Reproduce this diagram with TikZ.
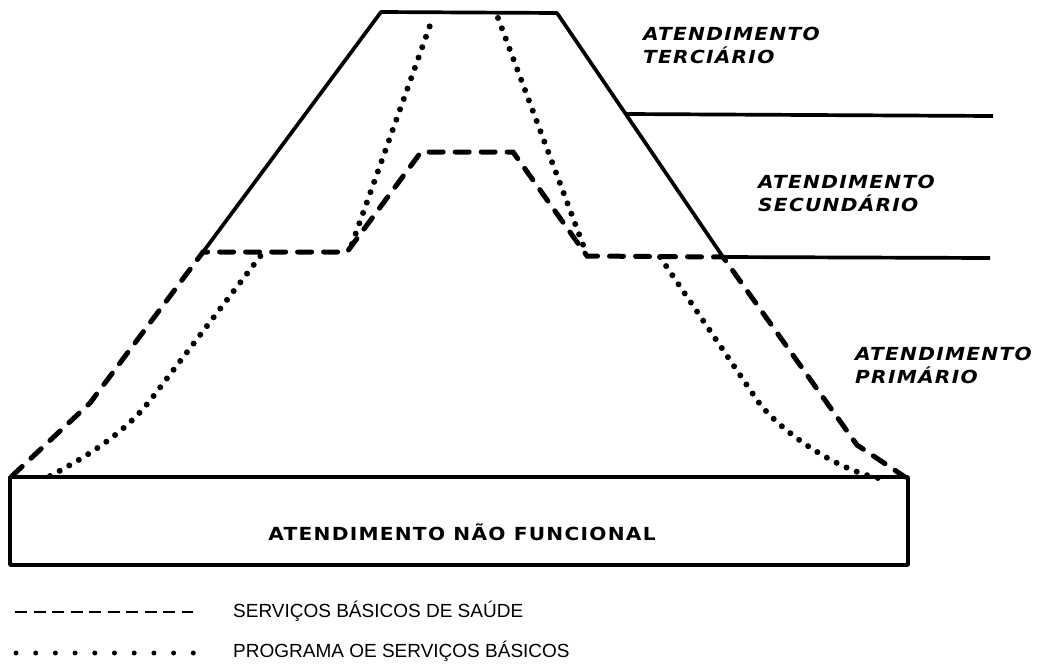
\documentclass[tikz,border=0pt]{standalone}
\usepackage{fontspec}
\setmainfont{Liberation Sans}
\newfontfamily\lblfont[FakeStretch=1.12, LetterSpace=7]{DejaVu Sans}
\usepackage{tikz}
\usetikzlibrary{positioning, calc}

\begin{document}
\begin{tikzpicture}[x=1pt,y=-1pt,
		solidline/.style={line width=3.7pt, line join=round},
		dashline/.style={line width=5pt, line cap=round, dash pattern=on 14pt off 12pt},
		dotline/.style={line width=6pt, line cap=round, dash pattern=on 0pt off 11pt},
		lbl/.style={font=\lblfont\bfseries\itshape\fontsize{18}{23}\selectfont, align=left, anchor=north west, inner sep=0pt}]
			\useasboundingbox (0,0) rectangle (1040,667);
			% niveis
			\coordinate (bl) at (203,252);
			\coordinate (tl) at (381,12);
			\coordinate (tr) at (557,13);
			\coordinate (br) at (723,257);
			\coordinate (t3) at (627,114);
			\draw[solidline] (bl) -- (tl) -- (tr) -- (br);
			\draw[solidline] (t3) -- (993,116);
			\draw[solidline] (br) -- (990,258);
			% base
			\draw[solidline] (10,477) rectangle (908,565);
			\node (naofunc) at (462,540) [anchor=base, inner sep=0pt, font=\lblfont\bfseries\fontsize{18}{22}\selectfont] {ATENDIMENTO NÃO FUNCIONAL};
			% servicos basicos
			\draw[dashline] (12,476) -- (90,403) -- (bl) -- (347,252) -- (421,152) -- (513,152) -- (587,256) -- (br) -- (857,445) -- (905,477);
			% programa
			\draw[dotline] (50,476) .. controls (90,455) and (127,431) .. (152,398) -- (262,254);
			\draw[dotline] (352,244) -- (433,17);
			\draw[dotline] (498,18) -- (585,250);
			\draw[dotline] (660,257) -- (757,400) .. controls (774,425) and (830,468) .. (878,478);
			% rotulos
			\node[lbl] (terc) at (643,27) {ATENDIMENTO\\TERCIÁRIO};
			\node[lbl] (secu) at (758,175) {ATENDIMENTO\\SECUNDÁRIO};
			\node[lbl] (prim) at (855,347) {ATENDIMENTO\\PRIMÁRIO};
			% legenda
			\draw[line width=1.6pt, dash pattern=on 12pt off 6.5pt] (15,612) -- (193,612);
			\draw[line width=5pt, line cap=round, dash pattern=on 0pt off 19.7pt] (16,653) -- (194,653);
			\node (legserv) at (233,617) [anchor=base west, inner sep=0pt, font=\fontsize{19}{22}\selectfont] {SERVIÇOS BÁSICOS DE SAÚDE};
			\node (legprog) at (233,657) [anchor=base west, inner sep=0pt, font=\fontsize{19}{22}\selectfont] {PROGRAMA OE SERVIÇOS BÁSICOS};
			\end{tikzpicture}
\end{document}
